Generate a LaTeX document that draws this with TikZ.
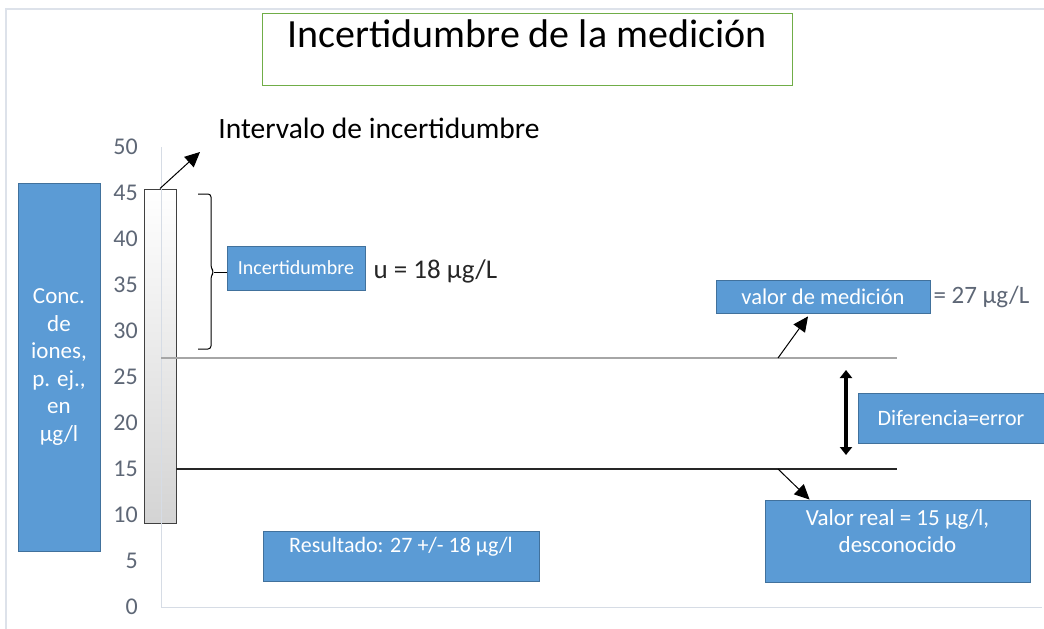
\documentclass[tikz,border=0pt]{standalone}
\usepackage{fontspec}
\setmainfont{Carlito}
\usetikzlibrary{arrows.meta,calc}
\definecolor{boxblue}{HTML}{5B9BD5}
\definecolor{boxedge}{HTML}{41719C}
\definecolor{titlegreen}{HTML}{70AD47}
\definecolor{axisgrey}{HTML}{D6DCE5}
\definecolor{ticktext}{HTML}{5E6776}
\definecolor{linegrey}{HTML}{A6A6A6}
\definecolor{framegrey}{HTML}{DDE2EA}

\tikzset{
  bluebox/.style={draw=boxedge, line width=0.8pt, fill=boxblue, text=white, inner sep=0pt},
  ticklabel/.style={anchor=east, text=ticktext, font=\fontsize{24}{28}\selectfont, inner sep=0pt},
  plaintext/.style={inner sep=0pt},
}

\begin{document}
\begin{tikzpicture}[x=1pt, y=-1pt, >={Triangle[length=15pt,width=14pt]}]
  \useasboundingbox (0,0) rectangle (1044,629);

  % Frame
  \draw[framegrey, line width=1.5pt] (6,629) -- (6,9) -- (1044,9);

  % Title
  \node[draw=titlegreen, line width=1pt, minimum width=530, inner xsep=0pt, inner ysep=4pt,
        text height=30pt, text depth=34pt, font=\fontsize{40}{44}\selectfont] (title) at (527,49)
        {Incertidumbre de la medición};

  % Interval bar
  \node[draw=black!75, line width=1pt, top color=white, bottom color=black!17,
        minimum width=32, minimum height=334, inner sep=0pt] (bar) at (160,356) {};

  % Axis and ticks
  \draw[axisgrey, line width=1pt] (161,147) -- (161,607) -- (1042,607);
  \foreach \v in {0,5,...,50}
    \node[ticklabel] (tick\v) at (138,{607-9.2*\v}) {\v};

  % Lines at 27 and 15
  \coordinate (g0) at (161,358);
  \coordinate (g1) at (897,358);
  \coordinate (k0) at (176,469);
  \coordinate (k1) at (897,469);
  \coordinate (gm) at (778,358);
  \coordinate (km) at (778,469);
  \coordinate (d1) at (846,370);
  \coordinate (d2) at (846,455);
  \coordinate (iv) at (200,152);
  \coordinate (bt) at (214,272);
  \draw[linegrey, line width=2pt] (g0) -- (g1);
  \draw[black!85, line width=1.2pt] (k0) -- (k1);

  % Nodes
  \node[plaintext, font=\fontsize{29.5}{34}\selectfont] (interval) at (379,128) {Intervalo de incertidumbre};
  \node[bluebox, align=center, minimum width=82, minimum height=368,
        font=\fontsize{23}{27.5}\selectfont] (conc) at (59,367)
        {Conc.\\de\\iones,\\p. ej.,\\en\\µg/l};
  \node[bluebox, minimum width=138, minimum height=44, font=\fontsize{20}{24}\selectfont] (unc) at (296,268) {Incertidumbre};
  \node[plaintext, anchor=west, text=black!85, font=\fontsize{27}{31}\selectfont] (uval) at ($(unc.east)+(8,3)$) {u = 18 µg/L};
  \node[bluebox, minimum width=214, minimum height=33, font=\fontsize{22.5}{26}\selectfont] (meas) at (823,296.5) {valor de medición};
  \node[plaintext, anchor=west, text=ticktext, font=\fontsize{25}{29}\selectfont] (measval) at ($(meas.east)+(3,0)$) {= 27 µg/L};
  \node[bluebox, minimum width=186, minimum height=50, font=\fontsize{22}{26}\selectfont] (diff) at (951,418) {Diferencia=error};
  \node[bluebox, align=center, minimum width=265, minimum height=82,
        font=\fontsize{23}{27}\selectfont] (real) at (897.5,541)
        {Valor real = 15 µg/l,\\desconocido\\[-8pt]\mbox{}};
  \node[bluebox, minimum width=276, inner ysep=4pt, text height=17pt, text depth=25pt,
        font=\fontsize{22}{26}\selectfont] (result) at (401,556) {Resultado: 27 +/- 18 µg/l};

  % Brace
  \draw[line width=1pt, rounded corners=3pt] (198,194) -| (211,268) -- (bt) -- (211,276) |- (198,349);
  \draw[line width=1pt] (bt) -- (bt -| unc.west);

  % Arrows
  \draw[->, line width=1pt] (bar.north) -- (iv);
  \draw[->, line width=1pt] (gm) -- ($(meas.south)+(-15,3)$);
  \draw[->, line width=1pt] (km) -- ($(real.north west)+(45,0)$);
  \draw[{Triangle[length=8pt,width=12pt]}-{Triangle[length=8pt,width=12pt]}, line width=3.5pt] (d1) -- (d2);
\end{tikzpicture}
\end{document}
